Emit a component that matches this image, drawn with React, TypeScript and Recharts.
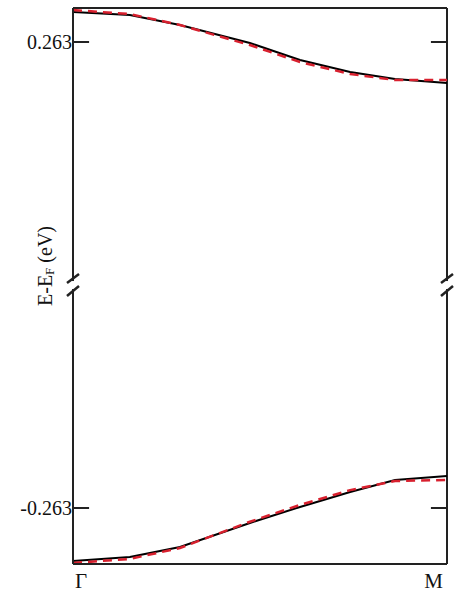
import React from "react";
import {
  LineChart,
  Line,
  XAxis,
  YAxis,
  ReferenceLine,
  ReferenceDot,
} from "recharts";

// path position along Γ–M (0 = Γ, 1 = M)
const kPath = [0, 0.152, 0.286, 0.473, 0.607, 0.741, 0.861, 1];

// upper band, eV
const upperSolid = [0.2969, 0.2935, 0.2822, 0.2619, 0.2427, 0.2291, 0.2212, 0.2167];
const upperDashed = [0.2991, 0.2946, 0.2822, 0.2596, 0.2404, 0.2269, 0.2201, 0.2201];

// lower band, eV
const lowerSolid = [-0.3228, -0.3183, -0.307, -0.2799, -0.2618, -0.2449, -0.2313, -0.2268];
const lowerDashed = [-0.325, -0.3205, -0.3081, -0.2785, -0.2595, -0.2428, -0.2325, -0.2314];

const yTicks = [-0.263, 0.263];
const xTicks = [0, 1];
const xLabels = ["Γ", "M"];

const Y_MIN = -0.3262;
const Y_MAX = 0.3014;
const AXIS_BREAK = -0.0113;
const TICK_LEN = 0.043;

const FONT = "Liberation Serif, DejaVu Serif, serif";
const AXIS = "#222";
const RED = "#d8202e";

const data = kPath.map((k, i) => ({
  k,
  upperSolid: upperSolid[i],
  upperDashed: upperDashed[i],
  lowerSolid: lowerSolid[i],
  lowerDashed: lowerDashed[i],
}));

function XTick(props: any) {
  const { x, y, payload } = props;
  const first = payload.value === 0;
  return (
    <text
      x={first ? x + 2 : x - 4}
      y={y + 16}
      textAnchor={first ? "start" : "end"}
      style={{ fontFamily: FONT, fontSize: 21 }}
      fill="#111"
    >
      {xLabels[xTicks.indexOf(payload.value)]}
    </text>
  );
}

function YTick(props: any) {
  const { x, y, payload } = props;
  return (
    <text
      x={x + 5}
      y={y + 7}
      textAnchor="end"
      style={{ fontFamily: FONT, fontSize: 20 }}
      fill="#111"
    >
      {payload.value.toFixed(3)}
    </text>
  );
}

function YLabel(props: any) {
  const { viewBox } = props;
  const cx = 45;
  const cy = viewBox.y + viewBox.height / 2 - 20;
  return (
    <text
      x={cx}
      y={cy}
      transform={`rotate(-90 ${cx} ${cy})`}
      textAnchor="middle"
      dominantBaseline="central"
      style={{ fontFamily: FONT, fontSize: 20 }}
      fill="#111"
    >
      E-E
      <tspan style={{ fontSize: 13 }} dy={4}>F</tspan>
      <tspan dy={-4}> (eV)</tspan>
    </text>
  );
}

// the "//" mark where the energy axis is cut
function BreakMark(props: any) {
  const { cx, cy } = props;
  return (
    <g>
      <rect x={cx - 3} y={cy - 4} width={6} height={8} fill="#fff" />
      <line x1={cx - 6} y1={cy - 2} x2={cx + 6} y2={cy - 11} stroke={AXIS} strokeWidth={2.5} />
      <line x1={cx - 6} y1={cy + 11} x2={cx + 6} y2={cy + 1} stroke={AXIS} strokeWidth={2.5} />
    </g>
  );
}

export default function App() {
  return (
    <div style={{ position: "absolute", left: 0, top: 0, background: "#fff" }}>
      <LineChart
        width={455}
        height={592}
        data={data}
        margin={{ top: 8, right: 8, bottom: 0, left: 0 }}
      >
        <XAxis
          dataKey="k"
          type="number"
          domain={[0, 1]}
          ticks={xTicks}
          tickLine={false}
          axisLine={{ stroke: AXIS, strokeWidth: 2 }}
          tick={<XTick />}
          height={28}
        />
        <YAxis
          type="number"
          domain={[Y_MIN, Y_MAX]}
          ticks={yTicks}
          tickLine={false}
          tickSize={4}
          axisLine={{ stroke: AXIS, strokeWidth: 2 }}
          tick={<YTick />}
          width={73}
          label={<YLabel />}
        />
        <ReferenceLine y={Y_MAX} stroke={AXIS} strokeWidth={2} />
        <ReferenceLine x={1} stroke={AXIS} strokeWidth={2} />
        {yTicks.map((t) => (
          <ReferenceLine
            key={"l" + t}
            segment={[{ x: 0, y: t }, { x: TICK_LEN, y: t }]}
            stroke={AXIS}
            strokeWidth={2}
          />
        ))}
        {yTicks.map((t) => (
          <ReferenceLine
            key={"r" + t}
            segment={[{ x: 1 - TICK_LEN, y: t }, { x: 1, y: t }]}
            stroke={AXIS}
            strokeWidth={2}
          />
        ))}
        <Line
          dataKey="upperSolid"
          type="linear"
          stroke="#000"
          strokeWidth={2}
          dot={false}
          isAnimationActive={false}
        />
        <Line
          dataKey="upperDashed"
          type="linear"
          stroke={RED}
          strokeWidth={2.5}
          strokeDasharray="9 6"
          dot={false}
          isAnimationActive={false}
        />
        <Line
          dataKey="lowerSolid"
          type="linear"
          stroke="#000"
          strokeWidth={2}
          dot={false}
          isAnimationActive={false}
        />
        <Line
          dataKey="lowerDashed"
          type="linear"
          stroke={RED}
          strokeWidth={2.5}
          strokeDasharray="9 6"
          dot={false}
          isAnimationActive={false}
        />
        <ReferenceDot x={0} y={AXIS_BREAK} shape={<BreakMark />} />
        <ReferenceDot x={1} y={AXIS_BREAK} shape={<BreakMark />} />
      </LineChart>
    </div>
  );
}
